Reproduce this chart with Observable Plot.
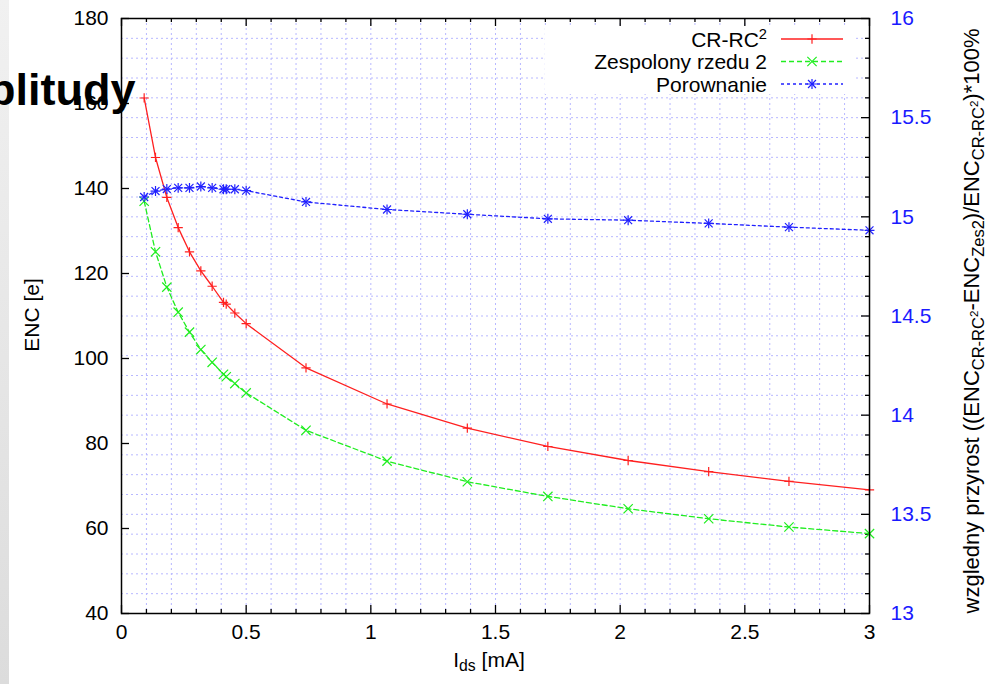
<!DOCTYPE html>
<html><head><meta charset="utf-8">
<script src="https://cdn.jsdelivr.net/npm/d3@7"></script>
<script src="https://cdn.jsdelivr.net/npm/@observablehq/plot@0.6"></script>
<style>
html,body{margin:0;padding:0;background:#fff;}
#wrap{position:relative;width:989px;height:684px;overflow:hidden;font-family:"Liberation Sans",Arial,sans-serif;background:#fff;}
#wrap > svg{position:absolute;left:0;top:0;}
.lbl{position:absolute;white-space:nowrap;font-size:21px;color:#000;line-height:1;}
.rot{transform:translate(-50%,-50%) rotate(-90deg);}
.ctr{transform:translate(-50%,-50%);}
.big{font-size:22px;}
sub{font-size:75%;vertical-align:-0.3em;line-height:0;}
sup{font-size:70%;vertical-align:0.55em;line-height:0;}
#strip{position:absolute;left:0;top:0;width:9px;height:684px;background:linear-gradient(to bottom,#f1f1f1,#dcdcdc);}
#title{position:absolute;left:-12px;top:68px;font:bold 45px "Liberation Sans",Arial,sans-serif;line-height:44px;color:#000;white-space:nowrap;}
</style></head>
<body><div id="wrap"></div>
<script>
// ---- data ----
const xI     = [0.0909, 0.1364, 0.1818, 0.2273, 0.2727, 0.3182, 0.3636, 0.4091, 0.42, 0.4545, 0.5, 0.74, 1.065, 1.387, 1.71, 2.032, 2.355, 2.677, 3.0];
const encCR  = [161.3, 147.3, 137.9, 130.8, 125.1, 120.6, 117.0, 113.2, 112.8, 110.7, 108.2, 97.8, 89.3, 83.6, 79.3, 76.0, 73.4, 71.1, 69.1];
const encZes = [137.0, 125.1, 116.8, 110.9, 106.2, 102.1, 99.1, 96.3, 95.7, 94.1, 91.9, 83.1, 75.85, 71.0, 67.55, 64.65, 62.3, 60.35, 58.8];
const porown = [15.10, 15.13, 15.14, 15.146, 15.146, 15.153, 15.146, 15.139, 15.139, 15.139, 15.132, 15.075, 15.037, 15.013, 14.99, 14.983, 14.967, 14.948, 14.932];
const xTicks  = [0, 0.5, 1, 1.5, 2, 2.5, 3];
const yTicks  = [40, 60, 80, 100, 120, 140, 160, 180];
const y2Ticks = [13, 13.5, 14, 14.5, 15, 15.5, 16];
const seriesNames = ["CR-RC<sup>2</sup>", "Zespolony rzedu 2", "Porownanie"];

// ---- layout ----
const W = 989, H = 684, mL = 121, mR = 120, mT = 18, mB = 71;
const xDom = [0, 3], yDom = [40, 180], y2Dom = [13, 16];
const RED = "#ff2020", GREEN = "#20ee20", BLUE = "#2020ff", GRID = "#b8b8ff";
const toY = v => yDom[0] + (v - y2Dom[0]) * (yDom[1] - yDom[0]) / (y2Dom[1] - y2Dom[0]);
const fromY = v => y2Dom[0] + (v - yDom[0]) * (y2Dom[1] - y2Dom[0]) / (yDom[1] - yDom[0]);
const dxPx = (xDom[1] - xDom[0]) / (W - mL - mR);
const dyPx = (yDom[1] - yDom[0]) / (H - mT - mB);

const data = xI.map((x, i) => ({x, cr: encCR[i], zes: encZes[i], por: toY(porown[i])}));
const minorX = d3.range(0, 31).map(k => k / 10);
const minorY2 = d3.range(0, 31).map(k => y2Dom[0] + k / 10);
const isMajor = d => Math.abs(d * 2 - Math.round(d * 2)) < 1e-6;

const chart = Plot.plot({
  width: W, height: H,
  marginLeft: mL, marginRight: mR, marginTop: mT, marginBottom: mB,
  x: {domain: xDom, label: null},
  y: {domain: yDom, label: null},
  style: {fontFamily: '"Liberation Sans", Arial, sans-serif', fontSize: "21px", background: "transparent", overflow: "visible"},
  marks: [
    // grid
    Plot.ruleX(minorX.slice(1, -1), {stroke: GRID, strokeWidth: 1, strokeDasharray: "2,3"}),
    Plot.ruleY(minorY2.slice(1, -1), {y: toY, stroke: GRID, strokeWidth: 1, strokeDasharray: "2,3"}),
    // tick marks (inward)
    Plot.ruleX(minorX, {y1: yDom[0], y2: d => yDom[0] + (isMajor(d) ? 8 : 4) * dyPx, stroke: "#000", strokeWidth: 1.3}),
    Plot.ruleX(minorX, {y1: yDom[1], y2: d => yDom[1] - (isMajor(d) ? 8 : 4) * dyPx, stroke: "#000", strokeWidth: 1.3}),
    Plot.ruleY(yTicks, {x1: xDom[0], x2: xDom[0] + 8 * dxPx, stroke: "#000", strokeWidth: 1.3}),
    Plot.ruleY(minorY2, {y: toY, x1: xDom[1], x2: d => xDom[1] - (isMajor(d) ? 8 : 4) * dxPx, stroke: "#000", strokeWidth: 1.3}),
    // axes labels
    Plot.axisX({ticks: xTicks, anchor: "bottom", tickSize: 0, tickPadding: 11, tickFormat: d => String(d), label: null, fontSize: 21}),
    Plot.axisY({ticks: yTicks, anchor: "left", tickSize: 0, tickPadding: 13, tickFormat: d => String(d), label: null, fontSize: 21}),
    Plot.axisY({ticks: y2Ticks.map(toY), anchor: "right", tickSize: 0, tickPadding: 21, color: "#1a1aff",
                tickFormat: d => String(Math.round(fromY(d) * 10) / 10), label: null, fontSize: 21}),
    // series
    Plot.line(data, {x: "x", y: "cr", stroke: RED, strokeWidth: 1.3}),
    Plot.line(data, {x: "x", y: "zes", stroke: GREEN, strokeWidth: 1.3, strokeDasharray: "5,3"}),
    Plot.line(data, {x: "x", y: "por", stroke: BLUE, strokeWidth: 1.3, strokeDasharray: "3,3"}),
    Plot.dot(data, {x: "x", y: "cr", symbol: "plus", r: 3.1, stroke: RED, strokeWidth: 1.2}),
    Plot.dot(data, {x: "x", y: "zes", symbol: "times", r: 4.3, stroke: GREEN, strokeWidth: 1.2}),
    Plot.dot(data, {x: "x", y: "por", symbol: "plus", r: 3.3, stroke: BLUE, strokeWidth: 1.2}),
    Plot.dot(data, {x: "x", y: "por", symbol: "times", r: 3.7, stroke: BLUE, strokeWidth: 1.2}),
    Plot.frame({stroke: "#000", strokeWidth: 1.5})
  ]
});
const wrap = document.getElementById("wrap");
wrap.appendChild(chart);

// ---- legend (key box, inside the plot, top right) ----
const lg = d3.select(wrap).append("svg").attr("width", W).attr("height", H);
const boxL = 545, boxR = 853, rowY = [39, 61.5, 84];
lg.append("rect").attr("x", boxL).attr("y", 26).attr("width", boxR - boxL).attr("height", 68).attr("fill", "#fff");
const styles = [
  {stroke: RED, dash: null, syms: [[d3.symbolPlus, 30]]},
  {stroke: GREEN, dash: "5,3", syms: [[d3.symbolTimes, 58]]},
  {stroke: BLUE, dash: "3,3", syms: [[d3.symbolPlus, 36], [d3.symbolTimes, 43]]}
];
styles.forEach((s, i) => {
  const g = lg.append("g");
  g.append("line").attr("x1", 781).attr("x2", 843).attr("y1", rowY[i]).attr("y2", rowY[i])
    .attr("stroke", s.stroke).attr("stroke-width", 1.3).attr("stroke-dasharray", s.dash);
  s.syms.forEach(([t, sz]) => g.append("path").attr("d", d3.symbol(t, sz)())
    .attr("transform", `translate(812,${rowY[i]})`).attr("fill", "none").attr("stroke", s.stroke).attr("stroke-width", 1.2));
  const d = document.createElement("div");
  d.className = "lbl";
  d.style.right = (W - 767) + "px";
  d.style.top = (rowY[i] - 10.5) + "px";
  d.innerHTML = seriesNames[i];
  wrap.appendChild(d);
});

// ---- axis titles ----
function addLabel(html, x, y, cls) {
  const d = document.createElement("div");
  d.className = "lbl " + cls;
  d.style.left = x + "px"; d.style.top = y + "px";
  d.innerHTML = html;
  wrap.appendChild(d);
  return d;
}
addLabel("ENC [e]", 31, 315, "rot");
addLabel("I<sub>ds</sub> [mA]", 489, 659, "ctr");
addLabel("wzgledny przyrost ((ENC<sub>CR-RC<sup>2</sup></sub>-ENC<sub>Zes2</sub>)/ENC<sub>CR-RC<sup>2</sup></sub>)*100%", 972, 321, "rot big");

// ---- slide remnants: grey strip and cropped title ----
const strip = document.createElement("div"); strip.id = "strip"; wrap.appendChild(strip);
const title = document.createElement("div"); title.id = "title"; title.textContent = "plitudy"; wrap.appendChild(title);
</script>
</body></html>
